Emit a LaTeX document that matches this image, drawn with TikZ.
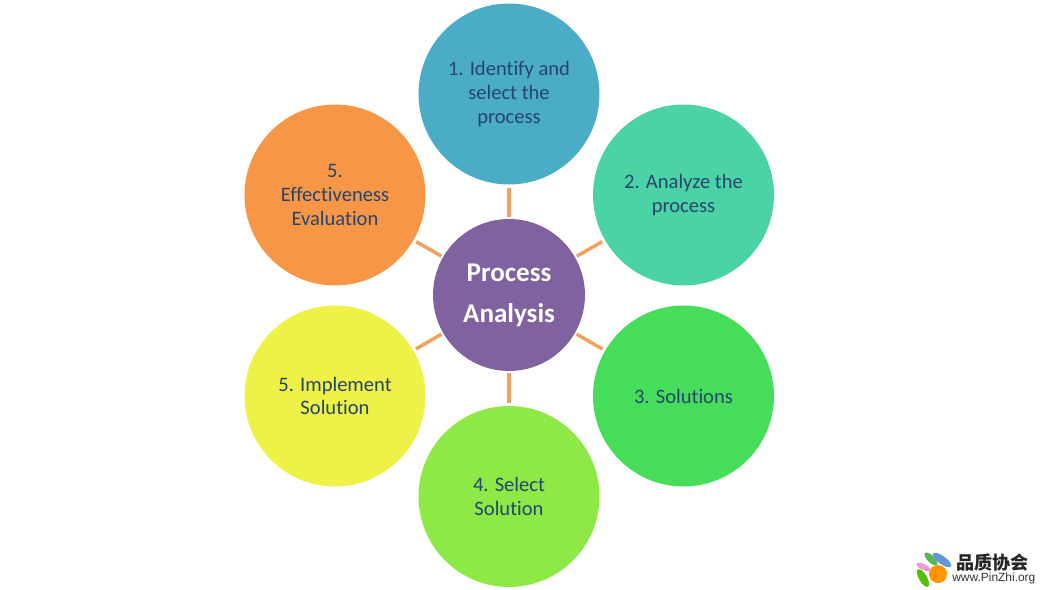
\documentclass[tikz,border=0pt]{standalone}
\usepackage{fontspec}
\setmainfont[RawFeature={-liga}]{Carlito}
\newfontfamily\cjkfont{Noto Sans CJK SC}
\newfontfamily\webfont{Liberation Sans}
\definecolor{linkorange}{HTML}{F0A25E}
\definecolor{labelblue}{HTML}{24466E}
\tikzset{
  step circle/.style={circle,minimum size=3.62cm,inner sep=0pt,align=center,text=labelblue,font=\fontsize{11.7pt}{13.4pt}\selectfont},
  hub circle/.style={circle,minimum size=3.04cm,inner sep=0pt,align=center,text=white,font=\bfseries\fontsize{15.4pt}{23.3pt}\selectfont},
  link/.style={line width=2pt,linkorange,shorten >=1.6pt,shorten <=1pt},
}
\begin{document}
\begin{tikzpicture}[x=0.02cm,y=-0.02cm]
\useasboundingbox (0,0) rectangle (1040,590);

\node[hub circle,fill={rgb,255:red,128;green,98;blue,161}] (hub) at (509,295) {Process\\Analysis};

\node[step circle,fill={rgb,255:red,75;green,172;blue,198}] (identify) at (509,94) {1. Identify and\\select the\\process};
\node[step circle,fill={rgb,255:red,75;green,211;blue,166}] (analyze) at (683.5,195) {2. Analyze the\\process};
\node[step circle,fill={rgb,255:red,70;green,221;blue,90}] (solutions) at (683.5,396) {3. Solutions};
\node[step circle,fill={rgb,255:red,142;green,232;blue,70}] (select) at (509,496.5) {4. Select\\Solution};
\node[step circle,fill={rgb,255:red,238;green,241;blue,70}] (implement) at (335,396) {5. Implement\\Solution};
\node[step circle,fill={rgb,255:red,247;green,150;blue,70}] (evaluation) at (335,195) {5.\\Effectiveness\\Evaluation};

\draw[link] (hub) -- (identify);
\draw[link] (hub) -- (analyze);
\draw[link] (hub) -- (solutions);
\draw[link] (hub) -- (select);
\draw[link] (hub) -- (implement);
\draw[link] (hub) -- (evaluation);

% logo
\fill[cyan!55!blue!65] (942,560) ellipse [x radius=11,y radius=4,rotate=-36];
\fill[green!55!black!65] (931,559) ellipse [x radius=8.5,y radius=3.5,rotate=-45];
\fill[magenta!40] (923.5,567) ellipse [x radius=7.5,y radius=3,rotate=-25];
\fill[green!55!yellow!75!black] (923,578) ellipse [x radius=10,y radius=4,rotate=-60];
\fill[orange!85!yellow] (938,574) circle (9);
\node[anchor=west,inner sep=0pt,font=\cjkfont\bfseries\fontsize{10.3pt}{10pt}\selectfont,text=black!85] (logotext) at (956,563) {品质协会};
\node[anchor=west,inner sep=0pt,font=\webfont\fontsize{6.8pt}{7pt}\selectfont,text=black!80] (logoweb) at (952,578) {www.PinZhi.org};
\end{tikzpicture}
\end{document}
